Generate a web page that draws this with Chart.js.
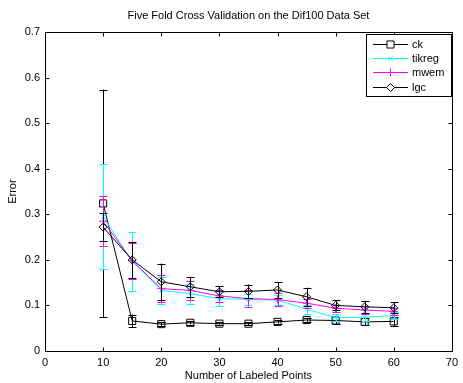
<!DOCTYPE html>
<html><head><meta charset="utf-8">
<script src="https://cdn.jsdelivr.net/npm/chart.js@4/dist/chart.umd.min.js"></script>
<style>html,body{margin:0;padding:0;background:#fff;} canvas{display:block;}</style>
</head><body>
<canvas id="c" width="463" height="383"></canvas>
<script>
const xValues = [10, 15, 20, 25, 30, 35, 40, 45, 50, 55, 60];
const ckMean = [0.324, 0.066, 0.059, 0.062, 0.060, 0.060, 0.064, 0.068, 0.067, 0.064, 0.065];
const ckErr = [0.250, 0.014, 0.004, 0.004, 0.003, 0.003, 0.004, 0.005, 0.008, 0.008, 0.010];
const tikregMean = [0.295, 0.197, 0.133, 0.126, 0.115, 0.113, 0.112, 0.092, 0.073, 0.074, 0.078];
const tikregErr = [0.115, 0.065, 0.030, 0.022, 0.017, 0.012, 0.012, 0.010, 0.008, 0.008, 0.008];
const mwemMean = [0.285, 0.198, 0.137, 0.133, 0.121, 0.115, 0.113, 0.105, 0.094, 0.090, 0.087];
const mwemErr = [0.055, 0.040, 0.030, 0.020, 0.013, 0.018, 0.014, 0.010, 0.008, 0.008, 0.008];
const lgcMean = [0.272, 0.200, 0.152, 0.141, 0.130, 0.131, 0.134, 0.119, 0.100, 0.097, 0.095];
const lgcErr = [0.030, 0.040, 0.040, 0.022, 0.012, 0.015, 0.017, 0.020, 0.011, 0.013, 0.012];
const seriesLabels = ['ck', 'tikreg', 'mwem', 'lgc'];
const xTicks = [0, 10, 20, 30, 40, 50, 60, 70];
const yTicks = [0, 0.1, 0.2, 0.3, 0.4, 0.5, 0.6, 0.7];
const yTickLabels = ['0', '0.1', '0.2', '0.3', '0.4', '0.5', '0.6', '0.7'];

const FONT = "'Liberation Sans', Arial, Helvetica, sans-serif";

function mk(label, mean, err, color, style, radius, order) {
  return {
    label: label,
    data: xValues.map((x, i) => ({x: x, y: mean[i]})),
    errs: err,
    borderColor: color,
    backgroundColor: 'rgba(0,0,0,0)',
    borderWidth: 1,
    pointStyle: style,
    pointRadius: radius,
    pointBorderColor: color,
    pointBackgroundColor: 'rgba(0,0,0,0)',
    pointBorderWidth: 1,
    tension: 0,
    fill: false,
    order: order
  };
}

const datasets = [
  mk(seriesLabels[0], ckMean, ckErr, '#000000', 'rect', 5, 3),
  mk(seriesLabels[1], tikregMean, tikregErr, '#00ffff', 'crossRot', 3, 2),
  mk(seriesLabels[2], mwemMean, mwemErr, '#ff00ff', 'cross', 4, 1),
  mk(seriesLabels[3], lgcMean, lgcErr, '#000000', 'rectRot', 4, 0)
];

const errorBars = {
  id: 'errorBars',
  afterDatasetDraw(chart, args) {
    const ds = chart.data.datasets[args.index];
    const xs = chart.scales.x, ys = chart.scales.y;
    const ctx = chart.ctx;
    ctx.save();
    ctx.strokeStyle = ds.borderColor;
    ctx.lineWidth = 1;
    ds.data.forEach((p, i) => {
      const px = Math.round(xs.getPixelForValue(p.x)) + 0.5;
      const top = ys.getPixelForValue(p.y + ds.errs[i]);
      const bot = ys.getPixelForValue(p.y - ds.errs[i]);
      ctx.beginPath();
      ctx.moveTo(px, top); ctx.lineTo(px, bot);
      ctx.moveTo(px - 4, Math.round(top) + 0.5); ctx.lineTo(px + 4, Math.round(top) + 0.5);
      ctx.moveTo(px - 4, Math.round(bot) + 0.5); ctx.lineTo(px + 4, Math.round(bot) + 0.5);
      ctx.stroke();
    });
    ctx.restore();
  }
};

const boxAndLegend = {
  id: 'boxAndLegend',
  afterDraw(chart) {
    const ctx = chart.ctx;
    const a = chart.chartArea;
    const xs = chart.scales.x, ys = chart.scales.y;
    const L = Math.round(a.left) + 0.5, R = Math.round(a.right) + 0.5;
    const T = Math.round(a.top) + 0.5, B = Math.round(a.bottom) + 0.5;
    ctx.save();
    ctx.strokeStyle = '#000';
    ctx.lineWidth = 1;
    ctx.beginPath();
    ctx.rect(L, T, R - L, B - T);
    xTicks.forEach(v => {
      const px = Math.round(xs.getPixelForValue(v)) + 0.5;
      ctx.moveTo(px, B); ctx.lineTo(px, B - 4);
      ctx.moveTo(px, T); ctx.lineTo(px, T + 4);
    });
    yTicks.forEach(v => {
      const py = Math.round(ys.getPixelForValue(v)) + 0.5;
      ctx.moveTo(L, py); ctx.lineTo(L + 4, py);
      ctx.moveTo(R, py); ctx.lineTo(R - 4, py);
    });
    ctx.stroke();

    // legend
    const bx = 366.5, by = 34.5, bw = 85, bh = 62;
    ctx.fillStyle = '#fff';
    ctx.fillRect(bx, by, bw, bh);
    ctx.strokeRect(bx, by, bw, bh);
    const rowY = [44.5, 58.5, 72.5, 87.5];
    ctx.font = '11px ' + FONT;
    ctx.textBaseline = 'middle';
    ctx.textAlign = 'left';
    chart.data.datasets.forEach((ds, i) => {
      const y = rowY[i];
      ctx.strokeStyle = ds.borderColor;
      ctx.lineWidth = 1;
      ctx.beginPath();
      ctx.moveTo(373, y); ctx.lineTo(408, y);
      ctx.stroke();
      ctx.fillStyle = '#fff';
      Chart.helpers.drawPoint(ctx, {pointStyle: ds.pointStyle, radius: ds.pointRadius, rotation: 0, borderWidth: 1}, 390.5, y);
      ctx.fillStyle = '#000';
      ctx.fillText(ds.label, 412, y);
    });
    ctx.restore();
  }
};

new Chart(document.getElementById('c'), {
  type: 'line',
  data: {datasets: datasets},
  options: {
    responsive: false,
    animation: false,
    devicePixelRatio: 1,
    layout: {padding: {left: 0, right: 7, top: 0, bottom: 0}},
    plugins: {
      legend: {display: false},
      tooltip: {enabled: false},
      title: {
        display: true,
        text: 'Five Fold Cross Validation on the Dif100 Data Set',
        color: '#000',
        font: {family: FONT, size: 11, weight: 'normal'},
        padding: {top: 9, bottom: 10},
        fullSize: false
      }
    },
    scales: {
      x: {
        type: 'linear',
        min: 0, max: 70,
        grid: {display: false, drawTicks: false},
        border: {display: false},
        afterBuildTicks: s => { s.ticks = xTicks.map(v => ({value: v})); },
        afterFit: s => { s.height = 32; },
        ticks: {color: '#000', font: {family: FONT, size: 11}, padding: 5, maxRotation: 0, autoSkip: false,
          callback: v => String(v)},
        title: {display: true, text: 'Number of Labeled Points', color: '#000',
          font: {family: FONT, size: 11}, padding: {top: 0, bottom: 0}}
      },
      y: {
        type: 'linear',
        min: 0, max: 0.7,
        grid: {display: false, drawTicks: false},
        border: {display: false},
        afterBuildTicks: s => { s.ticks = yTicks.map(v => ({value: v})); },
        afterFit: s => { s.width = 45; },
        ticks: {color: '#000', font: {family: FONT, size: 11}, padding: 5, autoSkip: false,
          callback: (v) => { const i = yTicks.findIndex(t => Math.abs(t - v) < 1e-9); return i >= 0 ? yTickLabels[i] : ''; }},
        title: {display: true, text: 'Error', color: '#000',
          font: {family: FONT, size: 11}, padding: {top: 6, bottom: 0}}
      }
    }
  },
  plugins: [errorBars, boxAndLegend]
});
</script>
</body></html>
